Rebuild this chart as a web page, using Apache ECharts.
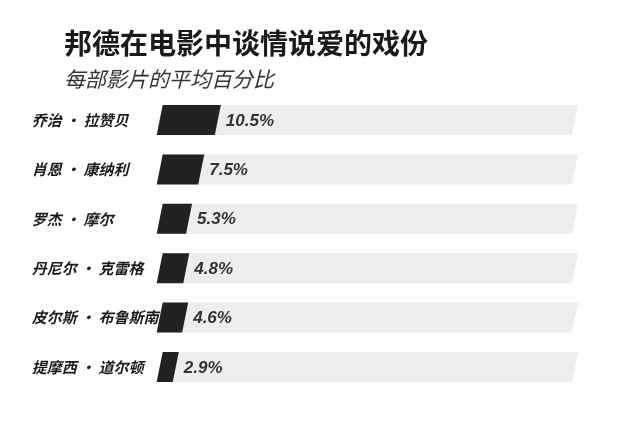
<!DOCTYPE html>
<html>
<head>
<meta charset="utf-8">
<script src="https://cdn.jsdelivr.net/npm/echarts@6/dist/echarts.min.js"></script>
<style>
html,body{margin:0;padding:0;background:#fff;}
#chart{width:640px;height:437px;}
</style>
</head>
<body>
<div id="chart"></div>
<script>
const titleText = '邦德在电影中谈情说爱的戏份';
const subtitleText = '每部影片的平均百分比';
const actors = ['乔治 · 拉赞贝', '肖恩 · 康纳利', '罗杰 · 摩尔', '丹尼尔 · 克雷格', '皮尔斯 · 布鲁斯南', '提摩西 · 道尔顿'];
const shares = [10.5, 7.5, 5.3, 4.8, 4.6, 2.9];
const trackMax = 75;

const chart = echarts.init(document.getElementById('chart'));
const SKEW = 3;

function renderBar(params, api) {
  const idx = api.value(0);
  const val = api.value(1);
  const p0 = api.coord([0, idx]);
  const p1 = api.coord([val, idx]);
  const pm = api.coord([trackMax, idx]);
  const h = api.size([0, 1])[1] * 0.607;
  const y = p0[1];
  const poly = (xa, xb) => [
    [xa + SKEW, y - h / 2], [xb + SKEW, y - h / 2],
    [xb - SKEW, y + h / 2], [xa - SKEW, y + h / 2]
  ];
  return {
    type: 'group',
    children: [
      { type: 'polygon', shape: { points: poly(p0[0], pm[0]) }, style: { fill: '#ededed' } },
      { type: 'polygon', shape: { points: poly(p0[0], p1[0]) }, style: { fill: '#222222' } },
      { type: 'text', x: p1[0] + 8, y: y + 1,
        style: { text: val + '%', fill: '#333', font: 'italic bold 17px "Liberation Sans", Arial, sans-serif',
                 textAlign: 'left', textVerticalAlign: 'middle' } }
    ]
  };
}

chart.setOption({
  animation: false,
  backgroundColor: '#ffffff',
  title: [
    { text: titleText, left: 59, top: 24,
      textStyle: { fontSize: 28, fontWeight: 'bold', color: '#1a1a1a', fontFamily: '"Noto Sans CJK SC", sans-serif' } },
    { text: subtitleText, left: 59, top: 64,
      textStyle: { fontSize: 21, fontWeight: 'normal', fontStyle: 'italic', color: '#333', fontFamily: '"Noto Sans CJK SC", sans-serif' } }
  ],
  grid: { left: 159.7, right: 65, top: 95.3, bottom: 45.3 },
  xAxis: { type: 'value', min: 0, max: trackMax, show: false },
  yAxis: {
    type: 'category', data: actors, inverse: true,
    axisLine: { show: false }, axisTick: { show: false }, splitLine: { show: false },
    axisLabel: { align: 'left', margin: 128, color: '#1a1a1a', fontSize: 15, fontWeight: 'bold', fontStyle: 'italic',
                 fontFamily: '"Noto Sans CJK SC", sans-serif', lineHeight: 20, padding: [4, 0, 0, 0] }
  },
  series: [{
    type: 'custom',
    renderItem: renderBar,
    encode: { x: 1, y: 0 },
    data: shares.map((v, i) => [i, v])
  }]
});
</script>
</body>
</html>
